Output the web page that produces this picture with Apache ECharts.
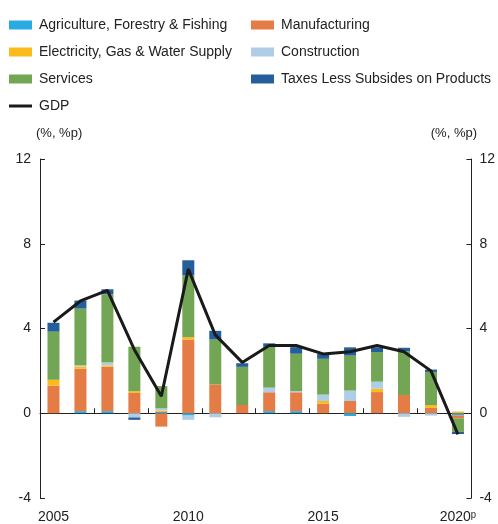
<!DOCTYPE html>
<html>
<head>
<meta charset="utf-8">
<script src="https://cdn.jsdelivr.net/npm/echarts@6/dist/echarts.min.js"></script>
<style>
  html, body { margin: 0; padding: 0; background: #fff; }
  #chart { width: 498px; height: 524px; }
</style>
</head>
<body>
<div id="chart"></div>
<script>
// 연도
const years = ["2005", "2006", "2007", "2008", "2009", "2010", "2011", "2012",
  "2013", "2014", "2015", "2016", "2017", "2018", "2019", "2020ᵖ"];

// 업종별 기여도 (%p)
const agriculture = [0, 0.1, 0.1, 0, 0.06, -0.11, 0, 0, 0.1, 0.1, 0, -0.13, 0, 0, 0, -0.1];
const manufacturing = [1.3, 2.0, 2.1, 0.96, -0.63, 3.48, 1.36, 0.39, 0.89, 0.89, 0.45, 0.58, 1.0, 0.86, 0.25, -0.14];
const electricity = [0.28, 0.11, 0.06, 0.08, 0.06, 0.11, 0, 0, 0, 0, 0.13, 0, 0.16, 0, 0.13, 0.08];
const construction = [0, 0.05, 0.13, -0.2, 0.11, -0.2, -0.19, 0, 0.22, 0.06, 0.3, 0.49, 0.33, -0.17, -0.11, 0];
const services = [2.27, 2.68, 3.22, 2.1, 1.05, 2.92, 2.12, 1.8, 1.93, 1.76, 1.69, 1.65, 1.4, 2.07, 1.57, -0.64];
const taxes = [0.42, 0.38, 0.24, -0.11, 0, 0.71, 0.41, 0.17, 0.16, 0.31, 0.24, 0.39, 0.22, 0.16, 0.11, -0.1];

// 경제성장률 (%)
const gdp = [4.3, 5.3, 5.8, 3.0, 0.8, 6.8, 3.7, 2.4, 3.2, 3.2, 2.8, 2.9, 3.2, 2.9, 2.0, -1.0];

// y축 눈금
const yMin = -4, yMax = 12, yStep = 4;

const myChart = echarts.init(document.getElementById("chart"));

const textColor = "#222";
const fontFamily = "Liberation Sans, Arial, sans-serif";

const barSeries = (name, data, color) => ({
  name: name,
  type: "bar",
  stack: "total",
  barWidth: 12,
  itemStyle: { color: color },
  data: data,
});

// 범례 공통 설정
const legendBase = {
  orient: "vertical",
  top: 12,
  itemWidth: 23,
  itemHeight: 9,
  itemGap: 11,
  icon: "rect",
  selectedMode: false,
  textStyle: { color: textColor, fontSize: 14, fontFamily: fontFamily, lineHeight: 16, padding: [0, 0, 0, 2] },
};

const yAxisBase = {
  type: "value",
  min: yMin,
  max: yMax,
  interval: yStep,
  splitLine: { show: false },
  axisLine: { show: true, lineStyle: { color: textColor, width: 1 } },
  axisTick: { show: true, inside: true, length: 5, lineStyle: { color: textColor } },
  axisLabel: { color: textColor, fontSize: 14, fontFamily: fontFamily, margin: 9 },
};

const options = {
  animation: false,
  textStyle: { fontFamily: fontFamily },
  legend: [
    Object.assign({}, legendBase, {
      left: 4,
      data: [
        "Agriculture, Forestry & Fishing",
        "Electricity, Gas & Water Supply",
        "Services",
        { name: "GDP", icon: "path://M0,0 L23,0 L23,3 L0,3 Z" },
      ],
    }),
    Object.assign({}, legendBase, {
      left: 246,
      data: ["Manufacturing", "Construction", "Taxes Less Subsides on Products"],
    }),
  ],
  graphic: [
    { type: "text", left: 36, top: 127, style: { text: "(%, %p)", fill: textColor, font: "13px " + fontFamily } },
    { type: "text", right: 21, top: 127, style: { text: "(%, %p)", fill: textColor, font: "13px " + fontFamily } },
  ],
  grid: { left: 40, right: 24, top: 159, bottom: 21 },
  xAxis: [
    {
      // 0선 축
      type: "category",
      data: years,
      position: "bottom",
      axisLine: { onZero: true, lineStyle: { color: textColor, width: 1 } },
      axisTick: { show: true, inside: true, length: 5, lineStyle: { color: textColor } },
      axisLabel: { show: false },
    },
    {
      // 하단 라벨 축
      type: "category",
      data: years,
      position: "bottom",
      axisLine: { show: false, onZero: false },
      axisTick: { show: false },
      axisLabel: { color: textColor, fontSize: 14, fontFamily: fontFamily, interval: 4, margin: 12 },
    },
  ],
  yAxis: [
    Object.assign({}, yAxisBase, { position: "left" }),
    Object.assign({}, yAxisBase, { position: "right", axisLabel: Object.assign({}, yAxisBase.axisLabel, { margin: 8 }) }),
  ],
  series: [
    barSeries("Agriculture, Forestry & Fishing", agriculture, "#29abe2"),
    barSeries("Manufacturing", manufacturing, "#e57b45"),
    barSeries("Electricity, Gas & Water Supply", electricity, "#fbbb1a"),
    barSeries("Construction", construction, "#afcde6"),
    barSeries("Services", services, "#72a654"),
    barSeries("Taxes Less Subsides on Products", taxes, "#245f9b"),
    {
      name: "GDP",
      type: "line",
      symbol: "none",
      lineStyle: { color: "#1a1a1a", width: 3 },
      itemStyle: { color: "#1a1a1a" },
      data: gdp,
      z: 5,
    },
  ],
};

myChart.setOption(options);
</script>
</body>
</html>
